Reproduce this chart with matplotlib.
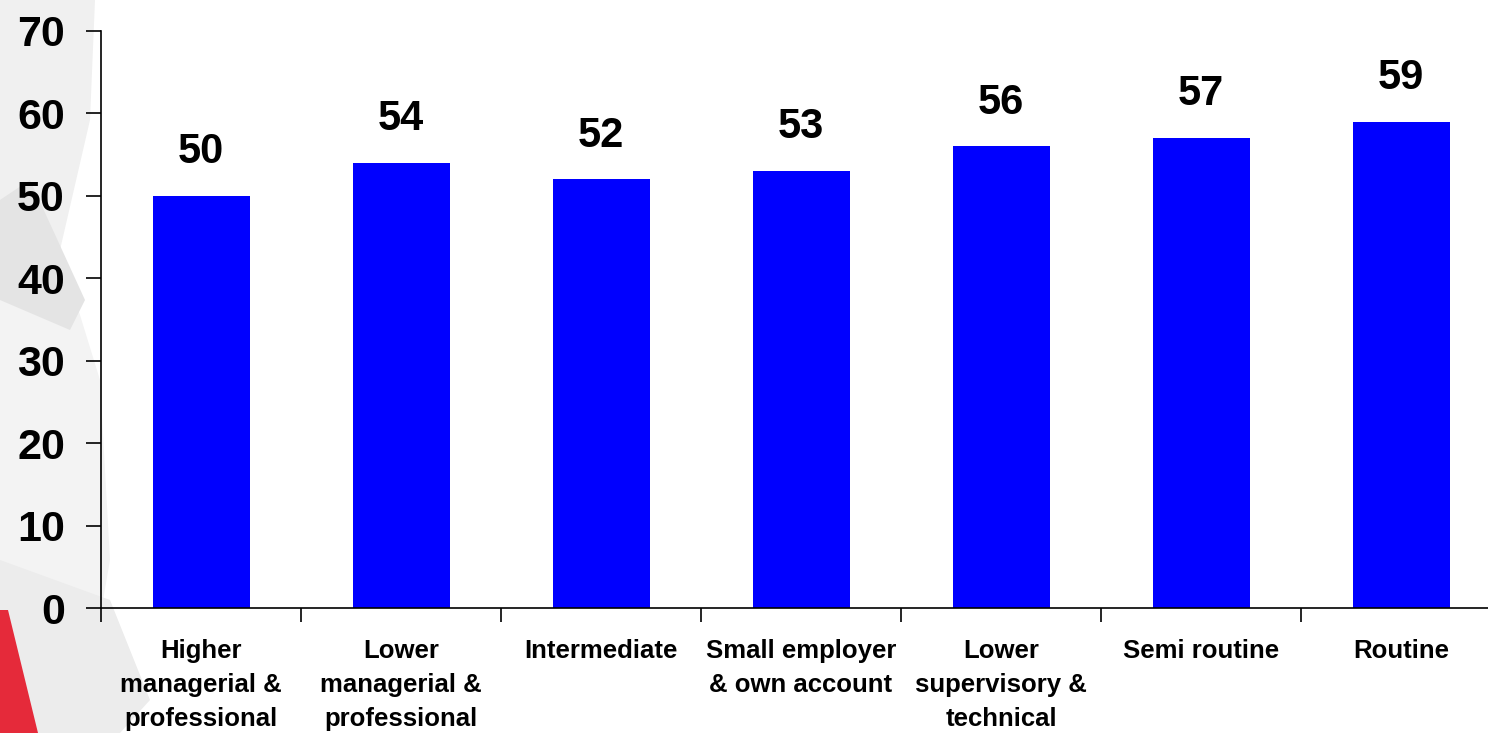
import matplotlib
matplotlib.use("Agg")
import matplotlib.pyplot as plt
from matplotlib.patches import Polygon

categories = ["Higher\nmanagerial &\nprofessional", "Lower\nmanagerial &\nprofessional",
              "Intermediate", "Small employer\n& own account", "Lower\nsupervisory &\ntechnical",
              "Semi routine", "Routine"]
values = [50, 54, 52, 53, 56, 57, 59]
yticks = [0, 10, 20, 30, 40, 50, 60, 70]

plt.rcParams['font.family'] = ['Liberation Sans', 'DejaVu Sans']

W, H = 1488, 733
fig = plt.figure(figsize=(W / 100, H / 100), dpi=100)
fig.patch.set_facecolor('white')

# background decoration (left side)
def fp(pts):
    return [(x / W, 1 - y / H) for x, y in pts]

deco = [
    ([(0, 0), (95, 0), (90, 120), (60, 250), (0, 290)], '#f0f0f0'),
    ([(0, 290), (60, 250), (100, 380), (110, 560), (80, 733), (0, 733)], '#f3f3f3'),
    ([(0, 200), (30, 180), (85, 300), (70, 330), (0, 300)], '#e4e4e4'),
    ([(0, 560), (110, 600), (150, 700), (120, 733), (0, 733)], '#ececec'),
]
for pts, c in deco:
    fig.patches.append(Polygon(fp(pts), closed=True, transform=fig.transFigure,
                               facecolor=c, edgecolor='none', zorder=-2))
fig.patches.append(Polygon(fp([(0, 610), (8, 610), (38, 733), (0, 733)]),
                           closed=True, transform=fig.transFigure, facecolor='#e52a3a',
                           edgecolor='none', zorder=-1))

left = 101 / W
width = 1400 / W
bottom = (H - 608) / H
height = 577 / H
ax = fig.add_axes([left, bottom, width, height])
ax.set_facecolor('none')
ax.set_zorder(1)

x = list(range(len(categories)))
ax.bar(x, values, width=0.485, color='#0000ff', zorder=2)
for xi, v in zip(x, values):
    ax.text(xi, v + 5.3, str(v), ha='center', va='center', fontsize=30,
            fontweight='bold', color='black')

ax.set_xlim(-0.5, len(categories) - 0.5)
ax.set_ylim(0, 70)
ax.set_yticks(yticks)
ax.set_yticklabels([str(t) for t in yticks], fontsize=31, fontweight='bold')
ax.tick_params(axis='y', length=11, width=1.2, pad=15, direction='out')

ax.set_xticks(x)
ax.set_xticklabels(categories, fontsize=18.5, fontweight='bold', linespacing=1.55, va='top')
ax.tick_params(axis='x', length=0, pad=22)
ax.set_xticks([i - 0.5 for i in range(len(categories) + 1)], minor=True)
ax.tick_params(axis='x', which='minor', length=10, width=1.2, direction='out')

for s in ['top', 'right']:
    ax.spines[s].set_visible(False)
for s in ['left', 'bottom']:
    ax.spines[s].set_linewidth(1.2)

fig.savefig('out.png', dpi=100, facecolor=fig.get_facecolor())
